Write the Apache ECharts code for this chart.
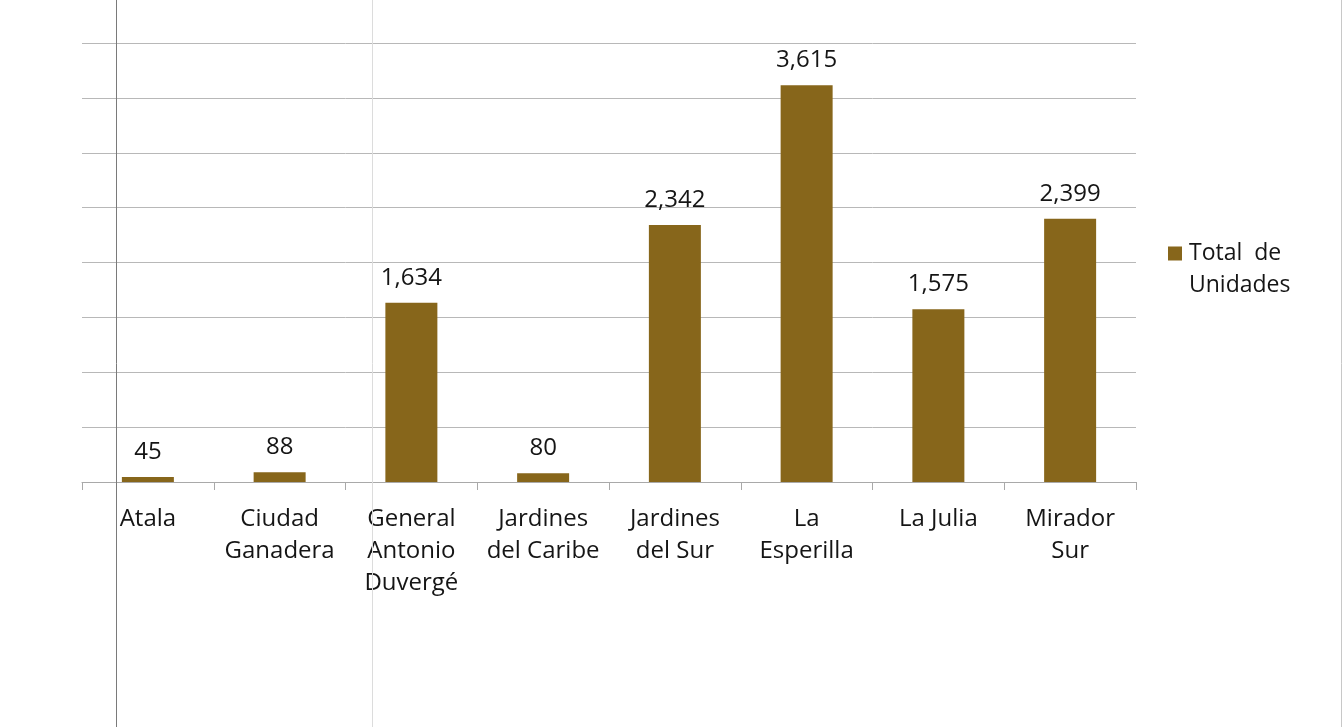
<!DOCTYPE html>
<html>
<head>
<meta charset="utf-8">
<script src="https://cdn.jsdelivr.net/npm/echarts@6/dist/echarts.min.js"></script>
<style>
html,body{margin:0;padding:0;background:#fff;}
#c{width:1344px;height:727px;}
</style>
</head>
<body>
<div id="c"></div>
<script>
const categories = ['Atala', 'Ciudad\nGanadera', 'General\nAntonio\nDuvergé', 'Jardines\ndel Caribe', 'Jardines\ndel Sur', 'La\nEsperilla', 'La Julia', 'Mirador\nSur'];
const seriesName = 'Total de Unidades';
const values = [45, 88, 1634, 80, 2342, 3615, 1575, 2399];

const chart = echarts.init(document.getElementById('c'), null, {renderer: 'canvas'});
const font = '"Open Sans", "DejaVu Sans", sans-serif';
chart.setOption({
  backgroundColor: '#ffffff',
  animation: false,
  textStyle: {fontFamily: font},
  grid: {left: 82, right: 208, top: 43, bottom: 245, containLabel: false},
  legend: {
    left: 1168, top: 237, padding: 0, itemGap: 8,
    itemWidth: 14, itemHeight: 46,
    icon: 'path://M0,0H10V10H0Z M0,32H0.001V32.001H0Z',
    formatter: function () { return 'Total  de\nUnidades'; },
    textStyle: {fontSize: 23, color: '#151515', lineHeight: 32, fontFamily: font, padding: [0, 0, 0, 2]},
    data: [seriesName]
  },
  xAxis: {
    type: 'category',
    data: categories,
    axisLine: {lineStyle: {color: '#a9a9a9', width: 1}},
    axisTick: {show: true, length: 8, lineStyle: {color: '#a9a9a9'}},
    axisLabel: {fontSize: 24, color: '#151515', lineHeight: 32, margin: 21, interval: 0, fontFamily: font}
  },
  yAxis: {
    type: 'value',
    min: 0, max: 4000, interval: 500,
    axisLine: {show: false},
    axisTick: {show: false},
    axisLabel: {show: false},
    splitLine: {lineStyle: {color: '#b8b8b8', width: 1}}
  },
  series: [{
    name: seriesName,
    type: 'bar',
    data: values,
    barWidth: 52,
    itemStyle: {color: '#87661b'},
    label: {
      show: true, position: 'top', distance: 13,
      fontSize: 24, color: '#151515', fontFamily: font,
      formatter: function (p) { return p.value.toLocaleString('en-US'); }
    }
  }],
  graphic: [
    {type: 'line', shape: {x1: 116.5, y1: 0, x2: 116.5, y2: 727}, style: {stroke: '#7a7a7a', lineWidth: 1}, z: 100},
    {type: 'line', shape: {x1: 372.5, y1: 0, x2: 372.5, y2: 727}, style: {stroke: '#dcdcdc', lineWidth: 1}, z: 100},
    {type: 'line', shape: {x1: 1341.5, y1: 0, x2: 1341.5, y2: 727}, style: {stroke: '#c8c8c8', lineWidth: 1}, z: 100}
  ]
});
</script>
</body>
</html>
